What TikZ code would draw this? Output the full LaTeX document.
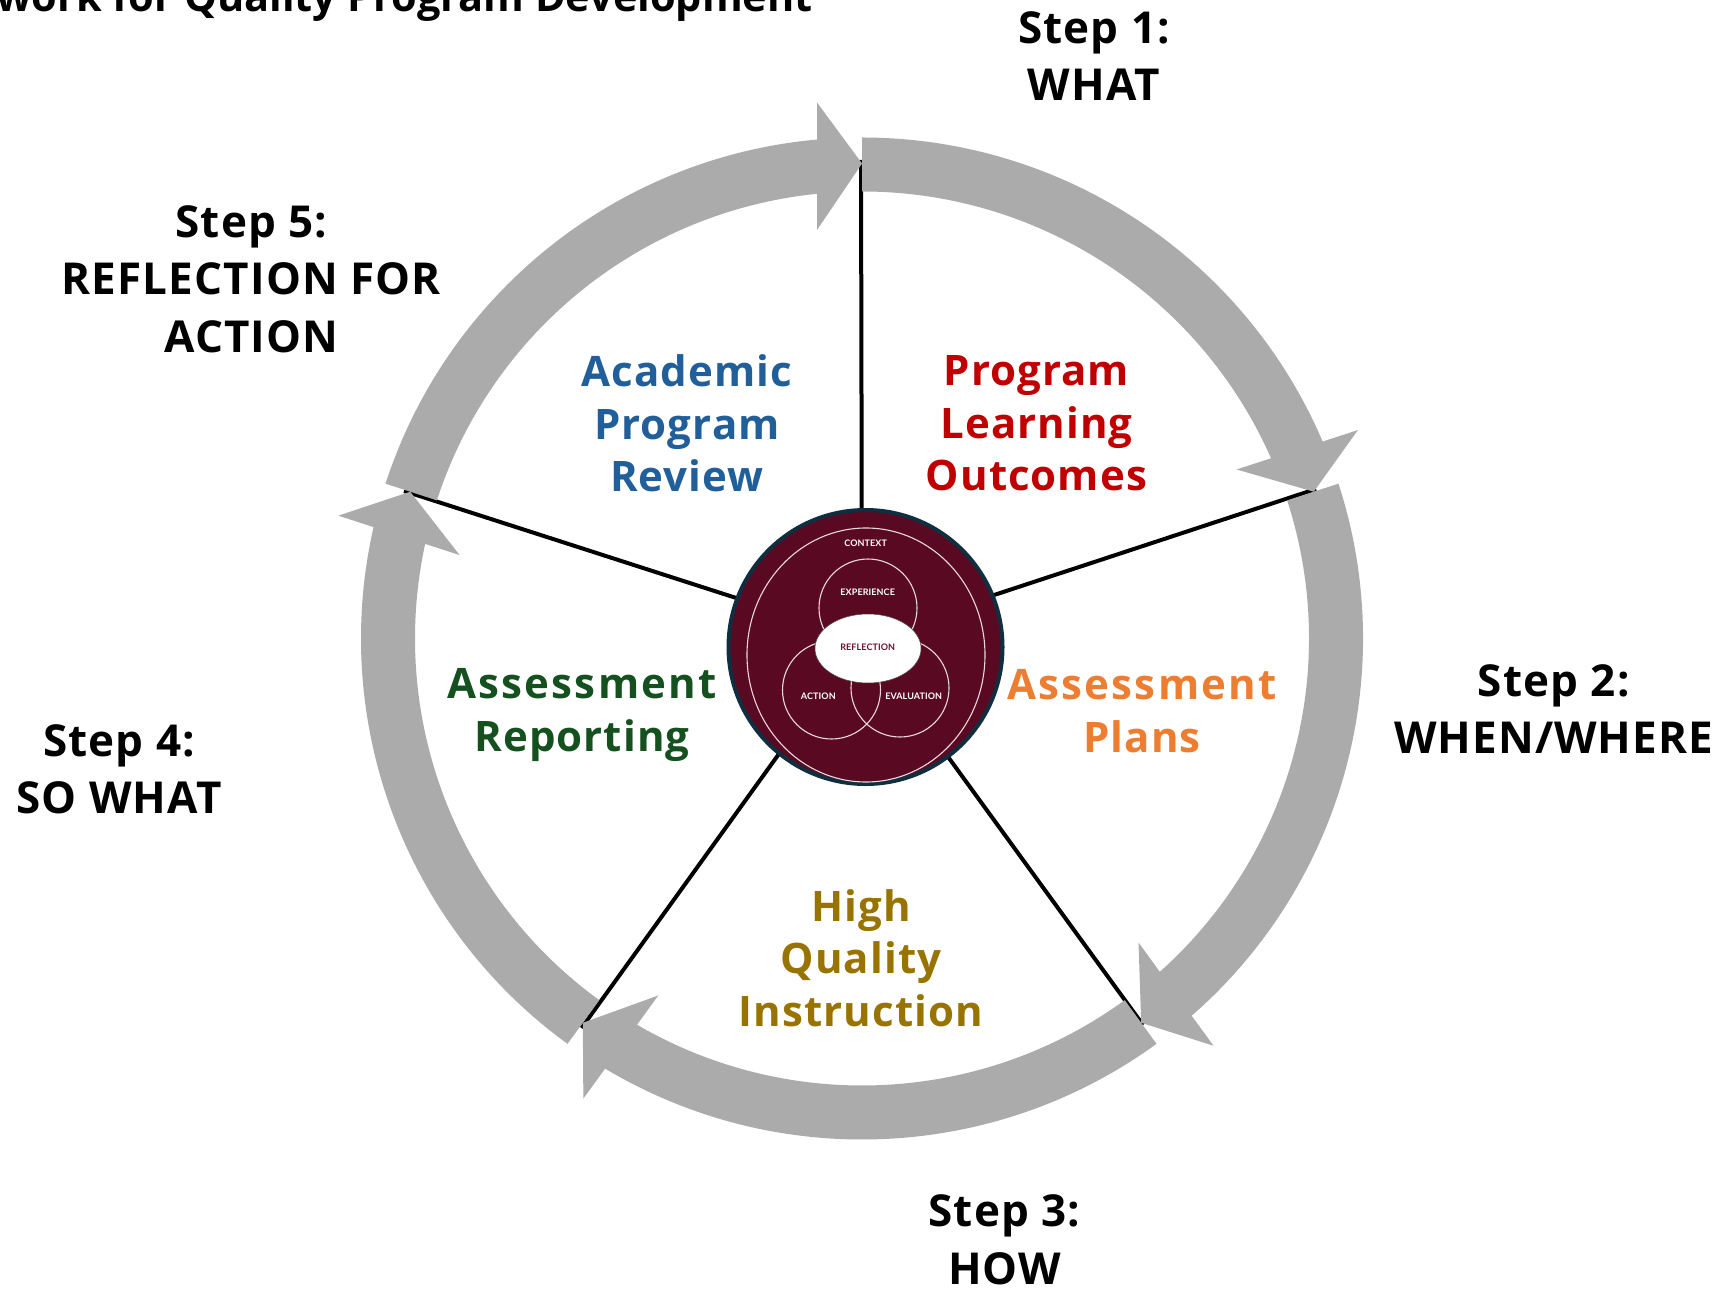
\documentclass[tikz,border=0pt]{standalone}
\usepackage{fontspec}
\usetikzlibrary{shapes.geometric}
\setmainfont{Open Sans}
\newfontfamily\stepfont[LetterSpace=2.5]{Open Sans}
\newfontfamily\assessfont[LetterSpace=5.4]{Open Sans}
\newfontfamily\hubfont[LetterSpace=1]{Lato}
\definecolor{ringgray}{HTML}{ABABAB}
\definecolor{hubfill}{HTML}{590A22}
\definecolor{hubedge}{HTML}{0F2F40}
\definecolor{hubline}{HTML}{E8D8DC}
\definecolor{prgred}{HTML}{C00000}
\definecolor{revblue}{HTML}{215F9A}
\definecolor{planorange}{HTML}{ED7D31}
\definecolor{repgreen}{HTML}{15511F}
\definecolor{qualgold}{HTML}{997300}
\definecolor{reflred}{HTML}{6B1030}
\tikzset{
  x=1pt,y=-1pt,
  steplabel/.style={align=center,inner sep=0pt,font=\stepfont\fontsize{44}{57.5}\selectfont\bfseries,text=black},
  zonelabel/.style={align=center,inner sep=0pt,font=\stepfont\fontsize{42}{52.4}\selectfont\bfseries},
  spoke/.style={draw=black,line width=4pt},
  ringarrow/.style={fill=ringgray,draw=none},
  venn/.style={circle,draw=hubline,line width=1.1pt,inner sep=0pt,minimum size=98pt},
  hubtext/.style={inner sep=0pt,text=white,font=\hubfont\fontsize{9}{11}\selectfont\bfseries},
}
\newcommand{\ringarrowpath}[1]{%
  \begin{scope}[shift={(c)},rotate=#1-90,y=1pt]
    \fill[ringarrow] (162:501) arc[start angle=162,end angle=95.15,radius=501]
      -- (-45,536) -- (0,475) -- (-45,408.5)
      -- (95.78:447) arc[start angle=95.78,end angle=162,radius=447] -- cycle;
  \end{scope}}
\begin{document}
\begin{tikzpicture}
\useasboundingbox (0,0) rectangle (1729,1289);
\fill[white] (0,0) rectangle (1729,1289);
\coordinate (c) at (862,638.5);
\coordinate (t1) at (861,160);
\coordinate (t2) at (1316,489);
\coordinate (t3) at (1143,1025);
\coordinate (t4) at (581.5,1028);
\coordinate (t5) at (404,491);
\foreach \t in {t1,t2,t3,t4,t5} \draw[spoke] (\t) -- (c);
\ringarrowpath{90}
\ringarrowpath{18}
\ringarrowpath{-54}
\ringarrowpath{-126}
\ringarrowpath{-198}
% hub
\node[circle,fill=hubfill,draw=hubedge,line width=4pt,minimum size=274pt,inner sep=0pt] (hub) at (865.5,647) {};
\node[ellipse,draw=hubline,line width=1.1pt,minimum width=238pt,minimum height=254pt,inner sep=0pt] (context) at (866,655) {};
\node[venn] (experience) at (868,608) {};
\node[venn] (action) at (831.5,690) {};
\node[venn] (evaluation) at (900,688) {};
\node[ellipse,fill=white,draw=black!70,line width=.5pt,minimum width=106pt,minimum height=69pt,inner sep=0pt] (reflection) at (868,648.5) {};
\node[hubtext] (tcontext) at (865.7,543.3) {CONTEXT};
\node[hubtext] (texperience) at (867.7,592) {EXPERIENCE};
\node[hubtext,text=reflred] (treflection) at (867.7,647.7) {REFLECTION};
\node[hubtext] (taction) at (818.3,696) {ACTION};
\node[hubtext] (tevaluation) at (913.7,696) {EVALUATION};
% zones
\node[zonelabel,text=prgred] (zone1) at (1036.5,423.5) {Program\\Learning\\Outcomes};
\node[zonelabel,text=planorange] (zone2) at (1142,711) {{\assessfont Assessment}\\Plans};
\node[zonelabel,text=qualgold] (zone3) at (861,958) {High\\Quality\\Instruction};
\node[zonelabel,text=repgreen] (zone4) at (582,715) {{\assessfont Assessment}\\Reporting};
\node[zonelabel,text=revblue] (zone5) at (687,423.5) {Academic\\Program\\Review};
% steps
\node[steplabel] (step1) at (1094,56) {Step 1:\\WHAT};
\node[steplabel] (step2) at (1553.7,709) {Step 2:\\WHEN/WHERE};
\node[steplabel] (step3) at (1004.5,1240) {Step 3:\\HOW};
\node[steplabel] (step4) at (119,769.5) {Step 4:\\SO WHAT};
\node[steplabel] (step5) at (251.4,279) {Step 5:\\REFLECTION FOR\\ACTION};
% title, cropped by the page edge as in the source
\begin{scope}
\clip (0,0) rectangle (1729,1289);
\node[anchor=base east,inner sep=0pt,font=\fontsize{41.5}{45}\selectfont\bfseries] (title) at (813,12) {work for Quality Program Development};
\end{scope}
\end{tikzpicture}
\end{document}
